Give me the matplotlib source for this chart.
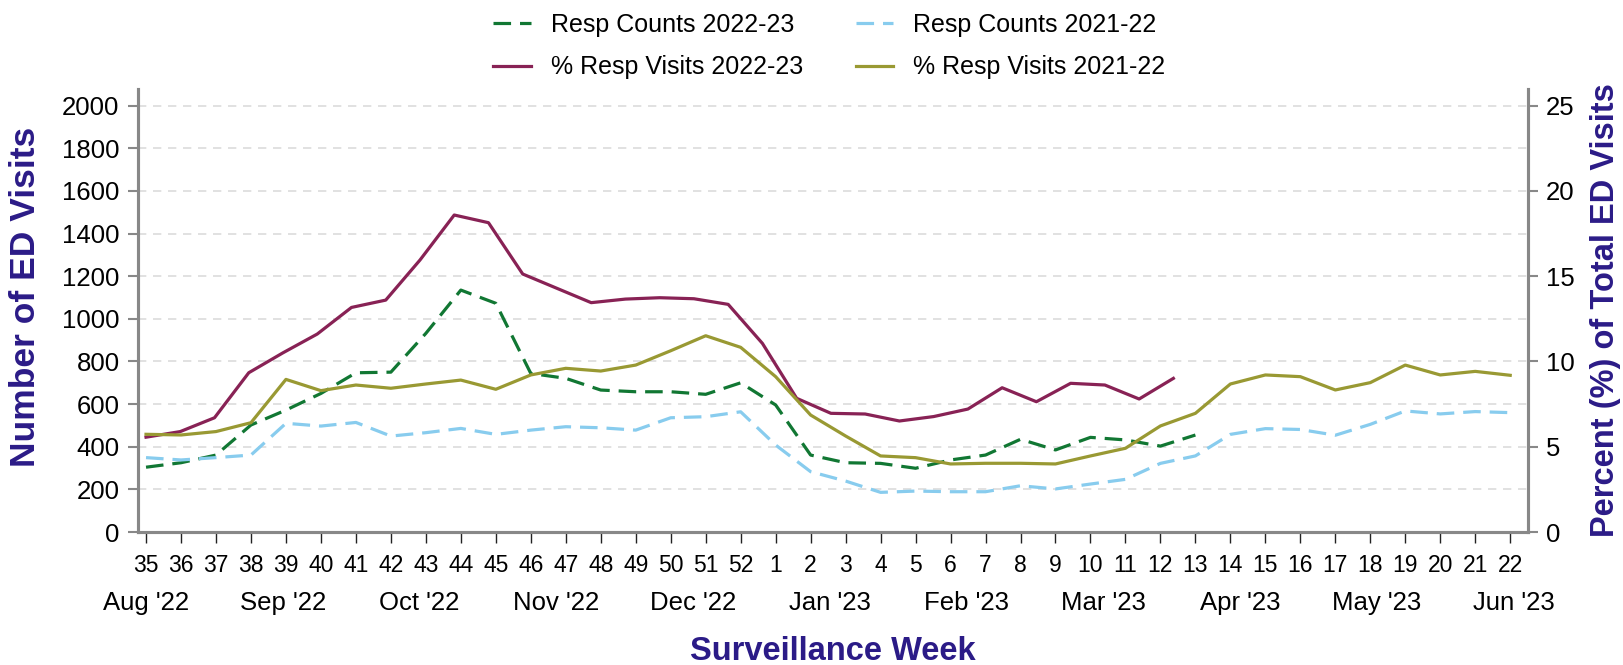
import matplotlib
matplotlib.use("Agg")
import matplotlib.pyplot as plt
import numpy as np

# ---------------------------------------------------------------
# data
weeks = ['35', '36', '37', '38', '39', '40', '41', '42', '43', '44', '45', '46',
         '47', '48', '49', '50', '51', '52', '1', '2', '3', '4', '5', '6', '7',
         '8', '9', '10', '11', '12', '13', '14', '15', '16', '17', '18', '19',
         '20', '21', '22']
months = ["Aug '22", "Sep '22", "Oct '22", "Nov '22", "Dec '22", "Jan '23",
          "Feb '23", "Mar '23", "Apr '23", "May '23", "Jun '23"]

# counts (left axis)
counts_2223 = [304, 325, 361, 502, 572, 650, 747, 750, 932, 1135, 1073, 744,
               721, 666, 658, 658, 646, 700, 596, 361, 325, 322, 299, 338,
               361, 435, 385, 444, 432, 403, 455]
counts_2122 = [349, 338, 349, 361, 510, 497, 514, 450, 466, 486, 458, 478,
               494, 489, 478, 536, 541, 564, 408, 283, 239, 186, 192, 189,
               189, 217, 202, 225, 247, 322, 357, 458, 485, 481, 454, 505,
               568, 554, 565, 560]

# percent of total ED visits (right axis)
pct_2223 = [5.56, 5.89, 6.70, 9.34, 10.51, 11.61, 13.17, 13.60, 15.95, 18.59,
            18.14, 15.13, 14.29, 13.45, 13.66, 13.74, 13.68, 13.35, 11.06,
            7.84, 6.96, 6.92, 6.51, 6.77, 7.21, 8.46, 7.64, 8.72, 8.62, 7.80,
            9.01]
pct_2122 = [5.73, 5.69, 5.89, 6.41, 8.95, 8.29, 8.62, 8.43, 8.68, 8.91, 8.37,
            9.21, 9.60, 9.44, 9.79, 10.63, 11.51, 10.83, 9.11, 6.86, 5.63,
            4.46, 4.36, 3.99, 4.03, 4.03, 3.99, 4.46, 4.91, 6.22, 6.96, 8.68,
            9.21, 9.11, 8.33, 8.76, 9.79, 9.21, 9.42, 9.19]

# ---------------------------------------------------------------
c_green = '#117733'
c_blue = '#88CCEE'
c_purple = '#882255'
c_olive = '#999933'
c_title = '#2B1B87'
c_spine = '#888888'

plt.rcParams['font.family'] = ['Liberation Sans', 'DejaVu Sans']

fig = plt.figure(figsize=(16.23, 6.65), dpi=100)
ax = fig.add_axes([0.0848, 0.2, 0.8567, 0.6657])
ax2 = ax.twinx()

x_all = np.arange(len(weeks))
x_23 = np.arange(len(counts_2223))
# the % 2022-23 line in the reference sits on a slightly compressed x scale
x_pct23 = np.arange(len(pct_2223)) * 0.979

dash = (5.5, 2.8)
lw = 2.3
l1, = ax.plot(x_23, counts_2223, color=c_green, lw=lw, dashes=dash,
              label='Resp Counts 2022-23', zorder=3)
l3, = ax.plot(x_all, counts_2122, color=c_blue, lw=lw, dashes=dash,
              label='Resp Counts 2021-22', zorder=3)
l2, = ax2.plot(x_pct23, pct_2223, color=c_purple, lw=lw,
               label='% Resp Visits 2022-23', zorder=3)
l4, = ax2.plot(x_all, pct_2122, color=c_olive, lw=lw,
               label='% Resp Visits 2021-22', zorder=3)

ymax = 2077
ax.set_xlim(-0.24, 39.51)
ax.set_ylim(0, ymax)
ax2.set_ylim(0, ymax / 80.0)

ax.set_yticks(np.arange(0, 2001, 200))
ax2.set_yticks(np.arange(0, 26, 5))
ax.set_xticks(x_all)
ax.set_xticklabels(weeks, fontsize=16.5)

ax.yaxis.grid(True, color='#dcdcdc', lw=1.2, ls=(0, (5, 4)))
ax.set_axisbelow(True)

for a in (ax, ax2):
    for s in ('left', 'right', 'bottom'):
        a.spines[s].set_color(c_spine)
        a.spines[s].set_linewidth(2.2)
    a.spines['top'].set_visible(False)
ax.tick_params(axis='y', labelsize=18.5, length=7, width=1.5, color=c_spine, pad=6)
ax2.tick_params(axis='y', labelsize=18.5, length=7, width=1.5, color=c_spine, pad=6)
ax.tick_params(axis='x', length=8, width=1.0, color='#222222', pad=8)

# month labels under the week numbers
month_pos = np.arange(len(months)) * 3.91
for mp, mname in zip(month_pos, months):
    ax.text(mp, -0.16, mname, transform=ax.get_xaxis_transform(),
            ha='center', va='center', fontsize=18.5)

fig.text(0.513, 0.02, 'Surveillance Week', ha='center', va='center',
         fontsize=23.5, fontweight='bold', color=c_title)
fig.text(0.0155, 0.553, 'Number of ED Visits', ha='center', va='center',
         rotation=90, fontsize=25.5, fontweight='bold', color=c_title)
fig.text(0.989, 0.533, 'Percent (%) of Total ED Visits', ha='center',
         va='center', rotation=90, fontsize=23.5, fontweight='bold',
         color=c_title)

leg = fig.legend(handles=[l1, l2, l3, l4], ncol=2, loc='upper center',
                 bbox_to_anchor=(0.511, 1.015), frameon=False,
                 prop={'size': 18},
                 handlelength=1.5, handletextpad=0.8, columnspacing=2.1,
                 labelspacing=0.75)

fig.savefig('out.png', dpi=100)
